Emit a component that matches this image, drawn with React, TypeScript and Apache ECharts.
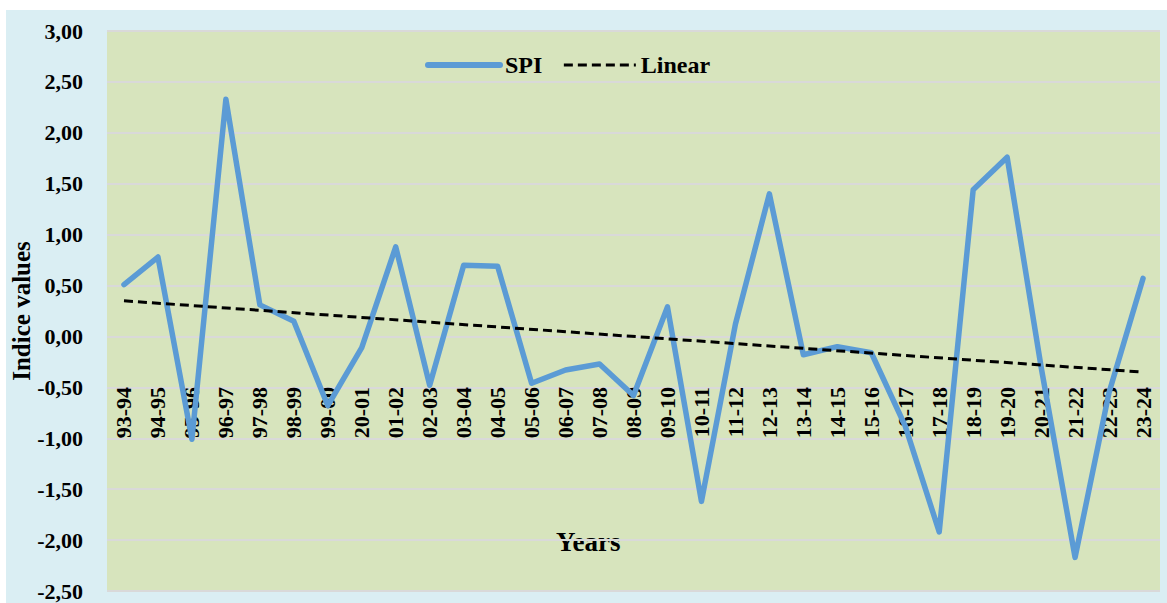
import React, { useEffect, useRef } from "react";
import * as echarts from "echarts";

const categories = [
  "93-94", "94-95", "95-96", "96-97", "97-98", "98-99", "99-00", "20-01", "01-02", "02-03",
  "03-04", "04-05", "05-06", "06-07", "07-08", "08-09", "09-10", "10-11", "11-12", "12-13",
  "13-14", "14-15", "15-16", "16-17", "17-18", "18-19", "19-20", "20-21", "21-22", "22-23", "23-24",
];

const spiValues = [
  0.51, 0.78, -1.01, 2.33, 0.31, 0.15, -0.68, -0.11, 0.88, -0.48,
  0.70, 0.69, -0.46, -0.33, -0.27, -0.58, 0.29, -1.62, 0.12, 1.40,
  -0.18, -0.10, -0.16, -0.88, -1.92, 1.44, 1.76, -0.30, -2.17, -0.55, 0.57,
];

// Linear trend line: value at first and last category
const trendStart = 0.35;
const trendEnd = -0.35;

const yMin = -2.5;
const yMax = 3.0;
const yStep = 0.5;

const FONT = "'Liberation Serif', 'Times New Roman', serif";

export default function App() {
  const ref = useRef<HTMLDivElement>(null);

  useEffect(() => {
    if (!ref.current) return;
    const chart = echarts.init(ref.current, undefined, { renderer: "svg" });
    const last = categories.length - 1;
    chart.setOption({
      animation: false,
      backgroundColor: "#daeef3",
      grid: {
        left: 101,
        right: 7,
        top: 21,
        bottom: 12,
        show: true,
        backgroundColor: "#d7e4bd",
        borderWidth: 0,
        outerBoundsMode: "none",
        containLabel: false,
      },
      legend: {
        left: 419,
        top: 43,
        padding: 0,
        itemWidth: 72,
        itemHeight: 16,
        itemGap: 20,
        itemStyle: { opacity: 0, borderWidth: 0 },
        textStyle: { fontFamily: FONT, fontWeight: "bold", fontSize: 24, color: "#000" },
        data: [
          { name: "SPI", lineStyle: { width: 6, cap: "round" } },
          { name: "Linear", lineStyle: { width: 3 } },
        ],
      },
      xAxis: {
        type: "category",
        data: categories,
        boundaryGap: true,
        offset: -204,
        axisLine: { show: false },
        axisTick: { show: false },
        axisLabel: {
          rotate: 90,
          margin: 0,
          interval: 0,
          fontFamily: FONT,
          fontWeight: "bold",
          fontSize: 22,
          color: "#000",
        },
        splitLine: { show: false },
      },
      yAxis: {
        type: "value",
        min: yMin,
        max: yMax,
        interval: yStep,
        name: "Indice values",
        nameLocation: "middle",
        nameRotate: 90,
        nameGap: 73,
        nameMoveOverlap: false,
        nameTextStyle: { fontFamily: FONT, fontWeight: "bold", fontSize: 25, color: "#000" },
        axisLine: { show: false },
        axisTick: { show: false },
        axisLabel: {
          margin: 24,
          fontFamily: FONT,
          fontWeight: "bold",
          fontSize: 22,
          color: "#000",
          formatter: (v: number) => v.toFixed(2).replace(".", ","),
        },
        splitLine: { show: true, lineStyle: { color: "#d9d9d9", width: 2 } },
      },
      graphic: [
        {
          type: "text",
          left: 550,
          top: 518,
          style: {
            text: "Years",
            fontFamily: FONT,
            fontWeight: "bold",
            fontSize: 27,
            fill: "#000",
          },
        },
      ],
      series: [
        {
          name: "SPI",
          type: "line",
          data: spiValues,
          symbol: "none",
          lineStyle: { color: "#5b9bd5", width: 5.5, cap: "round", join: "round" },
          itemStyle: { color: "#5b9bd5" },
          z: 2,
        },
        {
          name: "Linear",
          type: "line",
          data: [
            [0, trendStart],
            [last, trendEnd],
          ],
          symbol: "none",
          lineStyle: { color: "#000", width: 3, type: [9, 5] },
          itemStyle: { color: "#000" },
          z: 3,
        },
      ],
    });
    return () => chart.dispose();
  }, []);

  return (
    <div
      ref={ref}
      style={{ position: "absolute", left: 6, top: 10, width: 1161, height: 593 }}
    />
  );
}
